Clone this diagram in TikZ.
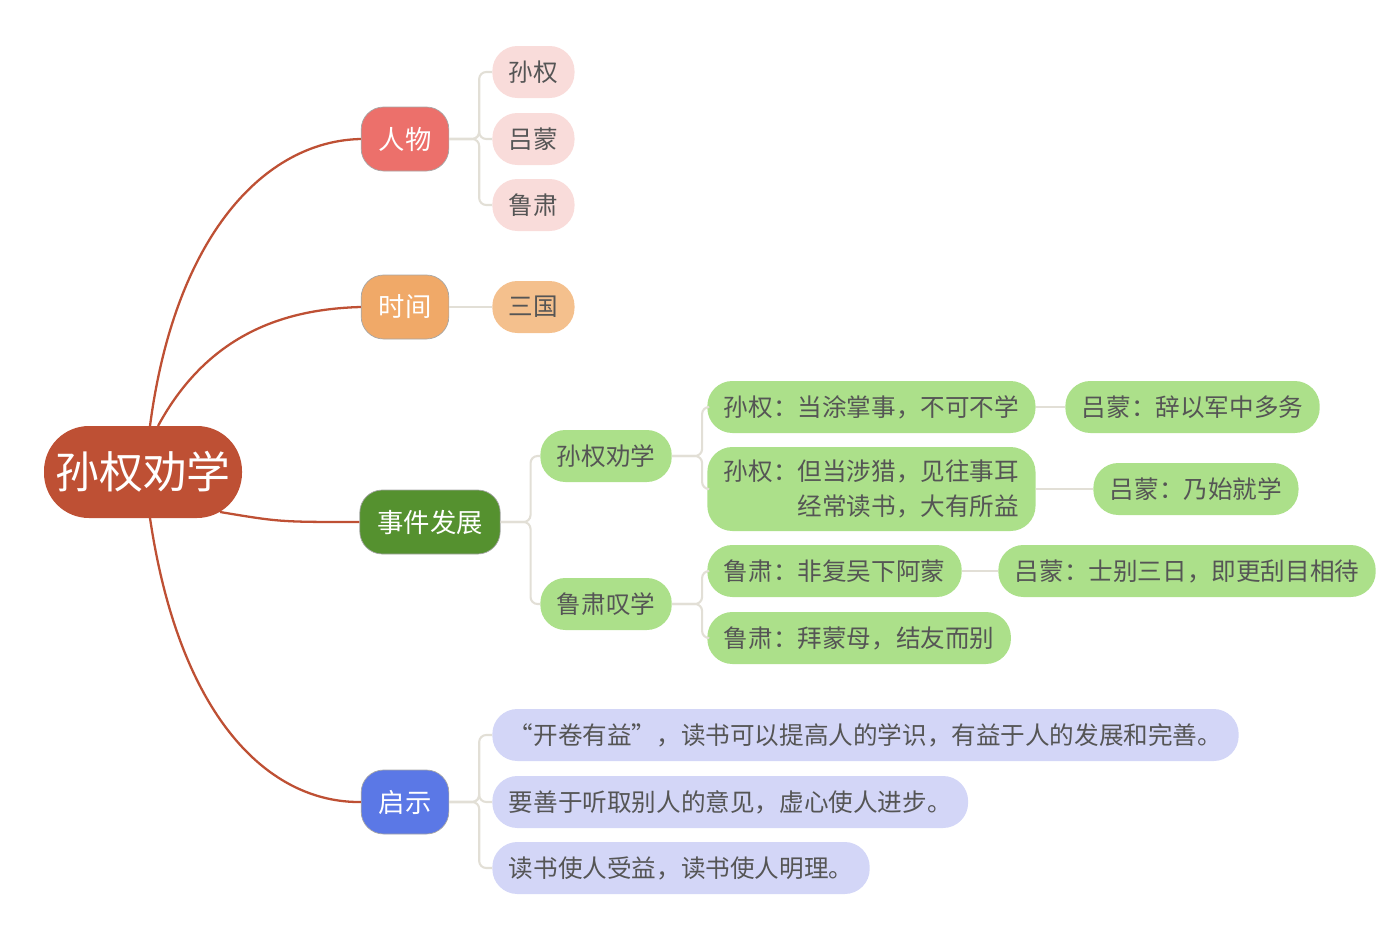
\documentclass[tikz,border=0pt]{standalone}
\usepackage{fontspec}
\setmainfont{Noto Sans CJK SC}
\definecolor{rootc}{HTML}{BE5034}
\definecolor{renc}{HTML}{EC706B}
\definecolor{shic}{HTML}{F0A968}
\definecolor{jianc}{HTML}{55912F}
\definecolor{qic}{HTML}{5B78E6}
\definecolor{pinkc}{HTML}{F9DCDA}
\definecolor{orangec}{HTML}{F4C08D}
\definecolor{greenc}{HTML}{ACE08A}
\definecolor{bluec}{HTML}{D3D6F7}
\definecolor{linec}{HTML}{E2DFD6}
\definecolor{textc}{HTML}{555555}
\begin{document}
\begin{tikzpicture}[x=0.02cm,y=-0.02cm,
    topic/.style={rectangle,rounded corners=0.45cm,draw=gray!70,thin,text=white,font=\fontsize{15}{18}\selectfont,minimum height=64*0.02cm,inner xsep=0.35cm},
    leaf/.style={rectangle,rounded corners=0.5cm,text=textc,font=\fontsize{14}{20}\selectfont,minimum height=52*0.02cm,inner xsep=0.33cm,anchor=west},
    br/.style={draw=linec,line width=1.2pt,rounded corners=4pt},
    trunk/.style={draw=rootc,line width=1.3pt}]
    \useasboundingbox (0,0) rectangle (1396,943);

    \node[rectangle,rounded corners=0.9cm,fill=rootc,text=white,font=\fontsize{25}{30}\selectfont,minimum width=198*0.02cm,minimum height=92*0.02cm] (root) at (143,472) {孙权劝学};

    \node[topic,fill=renc,minimum width=84*0.02cm] (ren) at (405,139) {人物};
    \node[topic,fill=shic,minimum width=84*0.02cm] (shi) at (405,307) {时间};
    \node[topic,fill=jianc,minimum width=132*0.02cm] (jian) at (430,522) {事件发展};
    \node[topic,fill=qic,minimum width=84*0.02cm] (qi) at (405,802) {启示};

    \coordinate (r1) at (150,426);
    \coordinate (r2) at (158,426);
    \coordinate (r3) at (220,512);
    \coordinate (r4) at (150,518);
    \draw[trunk] (r1) .. controls (175,235) and (265,141) .. (ren.west);
    \draw[trunk] (r2) .. controls (210,330) and (290,309) .. (shi.west);
    \draw[trunk] (r3) .. controls (280,522) .. (jian.west);
    \draw[trunk] (r4) .. controls (180,720) and (270,803) .. (qi.west);

    % 人物
    \node[leaf,fill=pinkc] (sq) at (492,72) {孙权};
    \node[leaf,fill=pinkc] (lm) at (492,139) {吕蒙};
    \node[leaf,fill=pinkc] (ls) at (492,205) {鲁肃};
    \foreach \c in {sq,lm,ls}
        \draw[br] (ren.east) -- ++(30,0) |- (\c.west);

    % 时间
    \node[leaf,fill=orangec] (sg) at (492,307) {三国};
    \draw[br] (shi.east) -- (sg.west);

    % 事件发展
    \node[leaf,fill=greenc] (qx) at (540,456) {孙权劝学};
    \node[leaf,fill=greenc] (tx) at (540,604) {鲁肃叹学};
    \foreach \c in {qx,tx}
        \draw[br] (jian.east) -- ++(30,0) |- (\c.west);

    \node[leaf,fill=greenc] (a1) at (707,407) {孙权：当涂掌事，不可不学};
    \node[leaf,fill=greenc,minimum height=84*0.02cm,align=left] (a2) at (707,489) {孙权：但当涉猎，见往事耳\\\phantom{孙权：}经常读书，大有所益};
    \foreach \c in {a1,a2}
        \draw[br] (qx.east) -- ++(30,0) |- (\c.west);
    \node[leaf,fill=greenc] (b1) at (1065,407) {吕蒙：辞以军中多务};
    \node[leaf,fill=greenc] (b2) at (1093,489) {吕蒙：乃始就学};
    \draw[br] (a1.east) -- (b1.west);
    \draw[br] (a2.east) -- (b2.west);

    \node[leaf,fill=greenc] (c1) at (707,571) {鲁肃：非复吴下阿蒙};
    \node[leaf,fill=greenc] (c2) at (707,638) {鲁肃：拜蒙母，结友而别};
    \foreach \c in {c1,c2}
        \draw[br] (tx.east) -- ++(30,0) |- (\c.west);
    \node[leaf,fill=greenc] (d1) at (998,571) {吕蒙：士别三日，即更刮目相待};
    \draw[br] (c1.east) -- (d1.west);

    % 启示
    \node[leaf,fill=bluec] (e1) at (492,735) {“开卷有益”，读书可以提高人的学识，有益于人的发展和完善。};
    \node[leaf,fill=bluec] (e2) at (492,802) {要善于听取别人的意见，虚心使人进步。};
    \node[leaf,fill=bluec] (e3) at (492,868) {读书使人受益，读书使人明理。};
    \foreach \c in {e1,e2,e3}
        \draw[br] (qi.east) -- ++(30,0) |- (\c.west);
\end{tikzpicture}
\end{document}
